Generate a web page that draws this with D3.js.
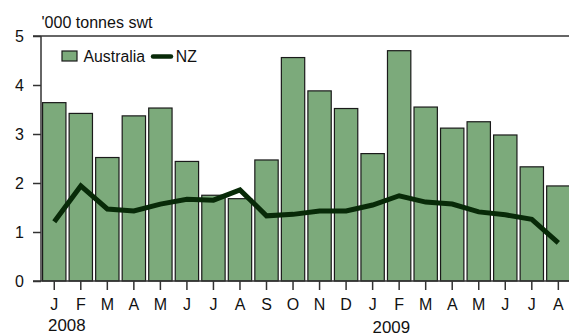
<!DOCTYPE html>
<html>
<head>
<meta charset="utf-8">
<script src="https://cdn.jsdelivr.net/npm/d3@7"></script>
<style>
  body { margin: 0; background: #fff; }
  svg text { font-family: "Liberation Sans", Arial, sans-serif; fill: #111; }
</style>
</head>
<body>
<div id="chart"></div>
<script>
        // Monthly data, Jan 2008 - Aug 2009
        const months = ["J","F","M","A","M","J","J","A","S","O","N","D",
                        "J","F","M","A","M","J","J","A"];
        const australia = [3.64, 3.42, 2.52, 3.37, 3.53, 2.44, 1.75, 1.68, 2.47, 4.56,
                           3.88, 3.52, 2.60, 4.70, 3.55, 3.12, 3.25, 2.98, 2.33, 1.94];
        const nz = [1.21, 1.94, 1.47, 1.43, 1.57, 1.67, 1.65, 1.86, 1.33, 1.36,
                    1.43, 1.43, 1.55, 1.74, 1.61, 1.57, 1.41, 1.35, 1.26, 0.78];
        const yTicks = [0, 1, 2, 3, 4, 5];
        const years = ["2008", "2009"];

        const width = 569, height = 335;
        const plotLeft = 41, plotRight = 571.6, plotTop = 36, plotBottom = 281;
        const barColor = "#7caa7b", lineColor = "#082a08", axisColor = "#333";
        const fontSize = "16px";

        const svg = d3.select("#chart").append("svg")
            .attr("width", width)
            .attr("height", height);

        const xScale = d3.scaleBand()
            .domain(d3.range(months.length))
            .range([plotLeft, plotRight])
            .paddingInner(0.12)
            .paddingOuter(0.06);
        const yScale = d3.scaleLinear().domain([0, 5]).range([plotBottom, plotTop]);

        // Bars
        svg.append("g").selectAll("rect")
            .data(australia)
            .enter()
            .append("rect")
            .attr("x", (d, i) => xScale(i))
            .attr("y", d => yScale(d))
            .attr("width", xScale.bandwidth())
            .attr("height", d => plotBottom - yScale(d))
            .style("fill", barColor)
            .style("stroke", "#1a1a1a")
            .style("stroke-width", 1.2);

        // NZ line
        const line = d3.line()
            .x((d, i) => xScale(i) + xScale.bandwidth() / 2)
            .y(d => yScale(d));
        svg.append("path")
            .datum(nz)
            .attr("d", line)
            .style("fill", "none")
            .style("stroke", lineColor)
            .style("stroke-width", 5);

        // Y axis
        const yAxis = svg.append("g")
            .attr("transform", `translate(${plotLeft}, 0)`)
            .call(d3.axisLeft(yScale).tickValues(yTicks).tickFormat(d3.format("d"))
                .tickSize(8).tickPadding(9));
        yAxis.select(".domain").remove();
        yAxis.append("line")
            .attr("x1", 0).attr("x2", 0)
            .attr("y1", plotTop).attr("y2", plotBottom);

        // Top frame line
        svg.append("line")
            .attr("x1", plotLeft - 8).attr("x2", width)
            .attr("y1", plotTop).attr("y2", plotTop);

        // X axis
        const xAxis = svg.append("g")
            .attr("transform", `translate(0, ${plotBottom})`)
            .call(d3.axisBottom(xScale).tickFormat(i => months[i]).tickSize(9).tickPadding(8.5));
        xAxis.select(".domain").remove();
        xAxis.append("line")
            .attr("x1", plotLeft - 8).attr("x2", width)
            .attr("y1", 0).attr("y2", 0);

        svg.selectAll(".tick line, g > line, svg > line")
            .style("stroke", axisColor)
            .style("stroke-width", 1.5);
        svg.selectAll(".tick text")
            .style("font-size", fontSize)
            .style("font-family", "'Liberation Sans', Arial, sans-serif")
            .style("fill", "#111");

        // Year labels
        svg.selectAll(".year")
            .data(years)
            .enter()
            .append("text")
            .attr("class", "year")
            .attr("x", (d, i) => i === 0 ? 48 : 372.5)
            .attr("y", (d, i) => i === 0 ? 331 : 333)
            .attr("textLength", 37.5)
            .attr("lengthAdjust", "spacingAndGlyphs")
            .style("font-size", fontSize)
            .text(d => d);

        // Unit label
        svg.append("text")
            .attr("x", 41.5)
            .attr("y", 28)
            .attr("textLength", 111)
            .attr("lengthAdjust", "spacingAndGlyphs")
            .style("font-size", fontSize)
            .text("'000 tonnes swt");

        // Legend
        const legend = svg.append("g");
        legend.append("rect")
            .attr("x", 62).attr("y", 51)
            .attr("width", 15).attr("height", 10)
            .style("fill", barColor)
            .style("stroke", "#1a1a1a")
            .style("stroke-width", 1.2);
        legend.append("text")
            .attr("x", 83.5).attr("y", 61.5)
            .attr("textLength", 61.5)
            .attr("lengthAdjust", "spacingAndGlyphs")
            .style("font-size", fontSize)
            .text("Australia");
        legend.append("line")
            .attr("x1", 153).attr("x2", 171)
            .attr("y1", 56.5).attr("y2", 56.5)
            .style("stroke", lineColor)
            .style("stroke-width", 4.5)
            .style("stroke-linecap", "round");
        legend.append("text")
            .attr("x", 175.8).attr("y", 61.5)
            .attr("textLength", 21)
            .attr("lengthAdjust", "spacingAndGlyphs")
            .style("font-size", fontSize)
            .text("NZ");
</script>
</body>
</html>
